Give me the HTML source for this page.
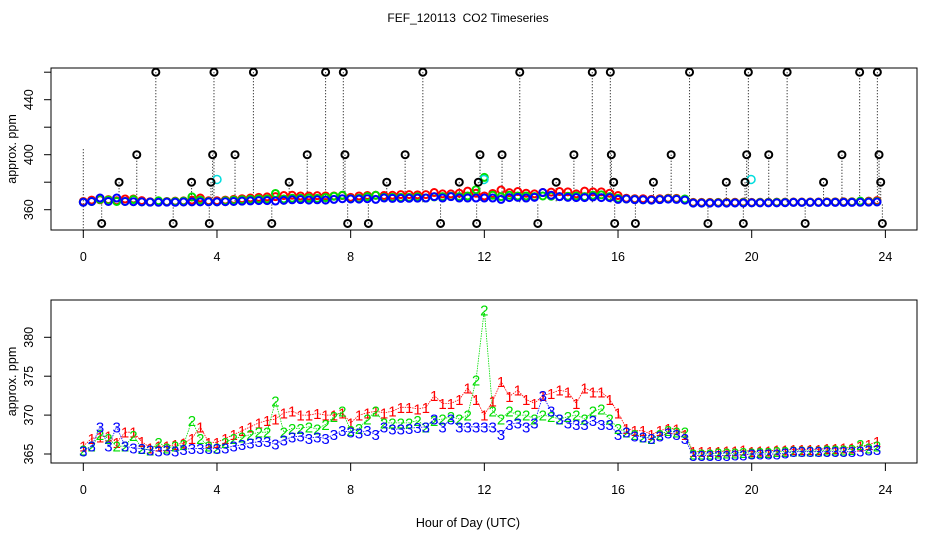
<!DOCTYPE html>
<html><head><meta charset="utf-8"><style>
html,body{margin:0;padding:0;background:#fff;}
svg{display:block;font-family:"Liberation Sans",sans-serif;}
</style></head><body>
<svg id="chart" width="936" height="540" viewBox="0 0 936 540" xmlns="http://www.w3.org/2000/svg">
<rect x="0" y="0" width="936" height="540" fill="#fff"/>
<text x="468" y="22" font-size="12" text-anchor="middle">FEF_120113 &#160;CO2 Timeseries</text>
<g id="topPanel"></g>
<g id="botPanel"></g>
<text x="468" y="527" font-size="12.5" text-anchor="middle">Hour of Day (UTC)</text>
</svg>
<script>
const hours = [0,0.25,0.5,0.75,1,1.25,1.5,1.75,2,2.25,2.5,2.75,3,3.25,3.5,3.75,4,4.25,4.5,4.75,5,5.25,5.5,5.75,6,6.25,6.5,6.75,7,7.25,7.5,7.75,8,8.25,8.5,8.75,9,9.25,9.5,9.75,10,10.25,10.5,10.75,11,11.25,11.5,11.75,12,12.25,12.5,12.75,13,13.25,13.5,13.75,14,14.25,14.5,14.75,15,15.25,15.5,15.75,16,16.25,16.5,16.75,17,17.25,17.5,17.75,18,18.25,18.5,18.75,19,19.25,19.5,19.75,20,20.25,20.5,20.75,21,21.25,21.5,21.75,22,22.25,22.5,22.75,23,23.25,23.5,23.75];
const series1 = [366,367,367.2,367.3,366.5,367.8,367.8,366.6,365.8,366,366,366.2,366.4,367,368.5,366.5,366.5,367,367.5,368,368.5,369,369.3,369.5,370.3,370.5,370,370,370.2,370,370,370.3,369,370,370.3,370.5,370.3,370.5,371,371,370.8,371,372.5,371.5,371.5,372,373.5,372,370,371.8,374.3,372.4,373.2,372,371.5,372.5,372.8,373.2,373,371.5,373.5,373,373,372,370.3,368.3,368,368,367.5,368,368.3,368.2,367.5,365.3,365.3,365.3,365.3,365.4,365.4,365.5,365.3,365.4,365.4,365.5,365.5,365.6,365.6,365.6,365.6,365.7,365.7,365.8,365.8,366,366.2,366.6];
const series2 = [365.5,366,367.5,367,366,366,367.4,365.7,365.5,366.5,365.8,366,366.2,369.3,367,366,365.8,366.5,367,367.2,367.5,367.8,367.8,371.8,367.8,368.3,368.3,368.5,368.2,368.8,369.8,370.5,368,368.3,369.5,370.5,369,369,369,369,369.3,368.5,369.3,369.5,369.8,369.5,370,374.5,383.5,370.5,369.5,370.5,370,370,369.5,370,369.8,369.5,369.8,370,369.5,370.5,370.8,369.5,368.3,367.8,367.5,367.2,367,367.5,368,367.8,367.8,365,365,365,365.1,365.1,365.1,365.2,365.1,365.2,365.2,365.3,365.3,365.4,365.4,365.4,365.4,365.5,365.5,365.5,365.6,366.2,365.8,366];
const series3 = [365.4,366,368.5,366,368.5,366,365.8,365.7,365.5,365.4,365.5,365.4,365.6,365.7,365.7,365.7,365.7,365.8,366,366.2,366.4,366.6,366.6,366.3,366.8,367.2,367.3,367,367.2,367,367.5,368,367.8,367.7,368,367.5,368.5,368.2,368.2,368.3,368.4,368.5,369.5,368.5,369.5,368.5,368.5,368.5,368.5,368.5,367.5,368.8,369,368.5,369,372.5,370.5,369.5,369,368.8,368.8,369.3,368.8,368.8,367.5,367.8,367.3,367.2,367,367.3,367.7,367.5,367,364.8,364.8,364.8,364.8,364.8,364.9,364.9,365,365,365,365,365.1,365.3,365.3,365.3,365.3,365.3,365.3,365.3,365.3,365.4,365.5,365.6];
const outlierHours = [0.55,1.07,1.6,2.17,2.69,3.24,3.77,3.82,3.87,3.91,4.54,5.09,5.64,6.16,6.7,7.25,7.78,7.83,7.91,8.53,9.08,9.63,10.16,10.69,11.25,11.77,11.82,11.87,12.53,13.06,13.6,14.15,14.68,15.23,15.77,15.8,15.87,15.9,16.52,17.06,17.59,18.14,18.69,19.24,19.75,19.8,19.85,19.9,20.51,21.06,21.6,22.15,22.7,23.23,23.76,23.81,23.86,23.91];
const outlierValues = [350,380,400,460,350,380,350,380,400,460,400,460,350,380,400,460,460,400,350,350,380,400,460,350,380,350,380,400,400,460,350,380,400,460,460,400,380,350,350,380,400,460,350,380,350,380,400,460,400,460,350,380,400,460,460,400,380,350];
const cyanHours = [4.0,11.99,19.98];
const cyanValues = [382,382,382];
const xTicks = [0,4,8,12,16,20,24];
const topTicks = [360,380,400,420,440,460];
const topLabels = [360,400,440];
const botTicks = [365,370,375,380];

const NS='http://www.w3.org/2000/svg';
function mk(tag,attrs,parent){const e=document.createElementNS(NS,tag);for(const k in attrs)e.setAttribute(k,attrs[k]);parent.appendChild(e);return e;}
const X=h=>83.3+h*33.42;
const YT=v=>209.7-(v-360)*1.375;
const YB=v=>454-(v-365)*7.78;
const topG=document.getElementById('topPanel'), botG=document.getElementById('botPanel');
const colors=['#ff0000','#00dd00','#0000ff'];
const allSeries=[series1,series2,series3];

function axes(g,y0,y1,Y,ticks,labels,tag){
  let r=mk('rect',{x:51,y:y0,width:866,height:y1-y0,fill:'none',stroke:'#000','stroke-width':1},g);
  
  
  xTicks.forEach(t=>{
    let l=mk('line',{x1:X(t),x2:X(t),y1:y1,y2:y1+8,stroke:'#000'},g);
    
    
    let tx=mk('text',{x:X(t),y:y1+31,'font-size':12.5,'text-anchor':'middle'},g);tx.textContent=t;
    
    
  });
  ticks.forEach(v=>{
    let l=mk('line',{x1:44,x2:51,y1:Y(v),y2:Y(v),stroke:'#000'},g);
    
    
  });
  labels.forEach(v=>{
    let tx=mk('text',{x:0,y:0,'font-size':12.5,'text-anchor':'middle',transform:`translate(33,${Y(v)}) rotate(-90)`},g);tx.textContent=v;
    
    
  });
  let yt=mk('text',{x:0,y:0,'font-size':12.5,'text-anchor':'middle',transform:`translate(16,${(y0+y1)/2}) rotate(-90)`},g);yt.textContent='approx. ppm';
  
  
}
axes(topG,68,230,YT,topTicks,topLabels,'top');
axes(botG,300,463,YB,botTicks,botTicks,'bottom');

outlierHours.forEach((h,i)=>{
  let l=mk('line',{x1:X(h),x2:X(h),y1:YT(outlierValues[i]),y2:YT(365),stroke:'#000','stroke-width':1,'stroke-dasharray':'1,2'},topG);
  
  
});
let l0=mk('line',{x1:X(0),x2:X(0),y1:YT(404),y2:232,stroke:'#000','stroke-width':1,'stroke-dasharray':'1,2'},topG);


allSeries.forEach((s,k)=>{
  hours.forEach((h,i)=>{
    let c=mk('circle',{cx:X(h),cy:YT(s[i]),r:3.5,fill:'none',stroke:colors[k],'stroke-width':2},topG);
    
    
  });
});
cyanHours.forEach((h,i)=>{
  let c=mk('circle',{cx:X(h),cy:YT(cyanValues[i]),r:4,fill:'none',stroke:'#00dddd','stroke-width':1.5},topG);
  
  
});
outlierHours.forEach((h,i)=>{
  let c=mk('circle',{cx:X(h),cy:YT(outlierValues[i]),r:3.5,fill:'none',stroke:'#000','stroke-width':2},topG);
  
  
});
allSeries.forEach((s,k)=>{
  let d=hours.map((h,i)=>(i?'L':'M')+X(h).toFixed(1)+','+YB(s[i]).toFixed(1)).join('');
  let p=mk('path',{d:d,fill:'none',stroke:colors[k],'stroke-width':0.8,'stroke-dasharray':'1.5,1'},botG);
  
  
});
allSeries.forEach((s,k)=>{
  hours.forEach((h,i)=>{
    let t=mk('text',{x:X(h),y:YB(s[i])+5.5,'font-size':15,fill:colors[k],'text-anchor':'middle'},botG);
    t.textContent=String(k+1);
    
    
  });
});
</script>
</body></html>
